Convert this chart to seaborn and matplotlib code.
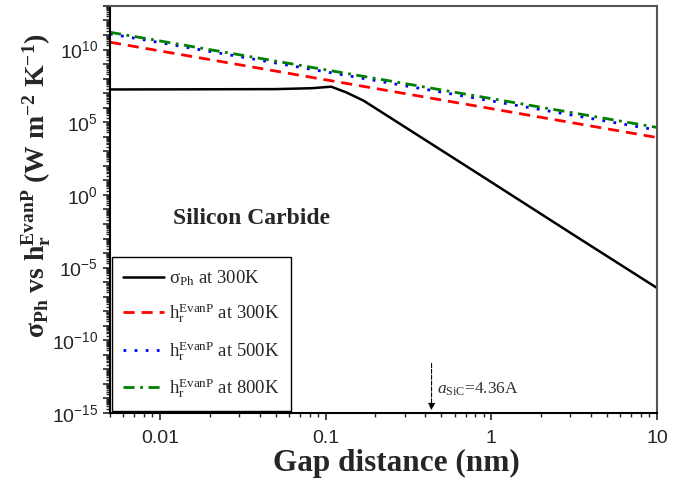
import numpy as np
import pandas as pd
import matplotlib
matplotlib.use('Agg')
import matplotlib.pyplot as plt
import matplotlib.ticker as mticker
import seaborn as sns

# values (gap in nm)
gap_sigma = [0.005, 0.05, 0.083, 0.108, 0.133, 0.17, 0.85, 3.4, 10]
sigma_300 = [1.8e7, 1.9e7, 2.2e7, 2.8e7, 1.15e7, 3.0e6, 25, 1.0e-3, 4e-7]

gap_h = [0.005, 10]
h_300 = [3.2e10, 8.9e3]
h_500 = [1.2e11, 2.9e4]
h_800 = [1.55e11, 4.4e4]

labels = [r'σ$_{Ph}$ at 300K',
          r'h$_r^{EvanP}$ at 300K',
          r'h$_r^{EvanP}$ at 500K',
          r'h$_r^{EvanP}$ at 800K']

sns.set_style('ticks')
plt.rcParams['font.family'] = ['Liberation Sans', 'DejaVu Sans']
plt.rcParams['mathtext.default'] = 'regular'
plt.rcParams['mathtext.fontset'] = 'custom'
plt.rcParams['mathtext.it'] = 'Liberation Serif:italic'
plt.rcParams['mathtext.rm'] = 'Liberation Serif'

fig = plt.figure(figsize=(6.85, 4.8), dpi=100)
ax = fig.add_axes([0.1606, 0.1396, 0.7985, 0.848])

sigma_df = pd.DataFrame({'gap': gap_sigma, 'val': sigma_300})
sns.lineplot(data=sigma_df, x='gap', y='val', ax=ax, color='black', lw=1.8,
             label=labels[0])
styles = [('#ff0000', (0, (4, 2.5))), ('#0000ff', (0, (1, 3))), ('#008000', (0, (4, 2, 1, 2)))]
for vals, (col, ls), lab in zip([h_300, h_500, h_800], styles, labels[1:]):
    df = pd.DataFrame({'gap': gap_h, 'val': vals})
    sns.lineplot(data=df, x='gap', y='val', ax=ax, color=col, lw=2, linestyle=ls, label=lab)

ax.set_xscale('log')
ax.set_yscale('log')
ax.set_xlim(0.005, 10)
ax.set_ylim(1e-15, 1e13)

ax.xaxis.set_major_locator(mticker.FixedLocator([0.01, 0.1, 1, 10]))
ax.xaxis.set_major_formatter(mticker.FixedFormatter(['0.01', '0.1', '1', '10']))
ax.xaxis.set_minor_locator(mticker.LogLocator(base=10, subs=np.arange(2, 10), numticks=50))
ax.yaxis.set_major_locator(mticker.LogLocator(base=10, subs=(1.0,), numticks=50))
ax.yaxis.set_major_formatter(mticker.FuncFormatter(
    lambda v, p: r'$10^{%d}$' % round(np.log10(v)) if round(np.log10(v)) % 5 == 0 else ''))
ax.yaxis.set_minor_locator(mticker.LogLocator(base=10, subs=np.arange(2, 10), numticks=50))

ax.tick_params(axis='both', which='major', direction='out', length=5, width=1.2,
               labelsize=14, top=False, right=False)
ax.tick_params(axis='x', which='major', pad=7)
ax.tick_params(axis='both', which='minor', direction='out', length=3, width=1,
               top=False, right=False)
for s in ['left', 'bottom']:
    ax.spines[s].set_color('black')
    ax.spines[s].set_linewidth(1.5)
for s in ['top', 'right']:
    ax.spines[s].set_color('#555555')
    ax.spines[s].set_linewidth(1.5)

ax.set_xlabel('Gap distance (nm)', fontsize=22.5, fontweight='bold',
              family='Liberation Serif')
ax.xaxis.set_label_coords(0.523, -0.088)
ax.set_ylabel(r'σ$_{Ph}$ vs h$_r^{EvanP}$ (W m$^{-2}$ K$^{-1}$)', fontsize=20,
              fontweight='bold', family='Liberation Serif')
ax.yaxis.set_label_coords(-0.105, 0.558)

ax.text(0.115, 0.479, 'Silicon Carbide', transform=ax.transAxes, fontsize=17,
        fontweight='bold', family='Liberation Serif', va='center')

# lattice constant marker
ax.annotate('', xy=(0.436, 1e-15), xytext=(0.436, 4e-12),
            arrowprops=dict(arrowstyle='-|>', color='black', lw=0.8, ls='--',
                            mutation_scale=10))
ax.text(0.47, 4e-14, r'$\it{a}_{\mathrm{SiC}}$=4.36A', fontsize=12.5,
        family='Liberation Serif', color='#333333', va='center')

leg = ax.legend(loc='lower left', bbox_to_anchor=(0.003, 0.004), borderaxespad=0,
                fancybox=False, edgecolor='black', framealpha=1, handlelength=2.2,
                handletextpad=0.25, labelspacing=0.72, borderpad=0.6,
                prop={'family': 'Liberation Serif', 'size': 13.5})
leg.get_frame().set_linewidth(1.0)

fig.savefig('out.png', dpi=100)
